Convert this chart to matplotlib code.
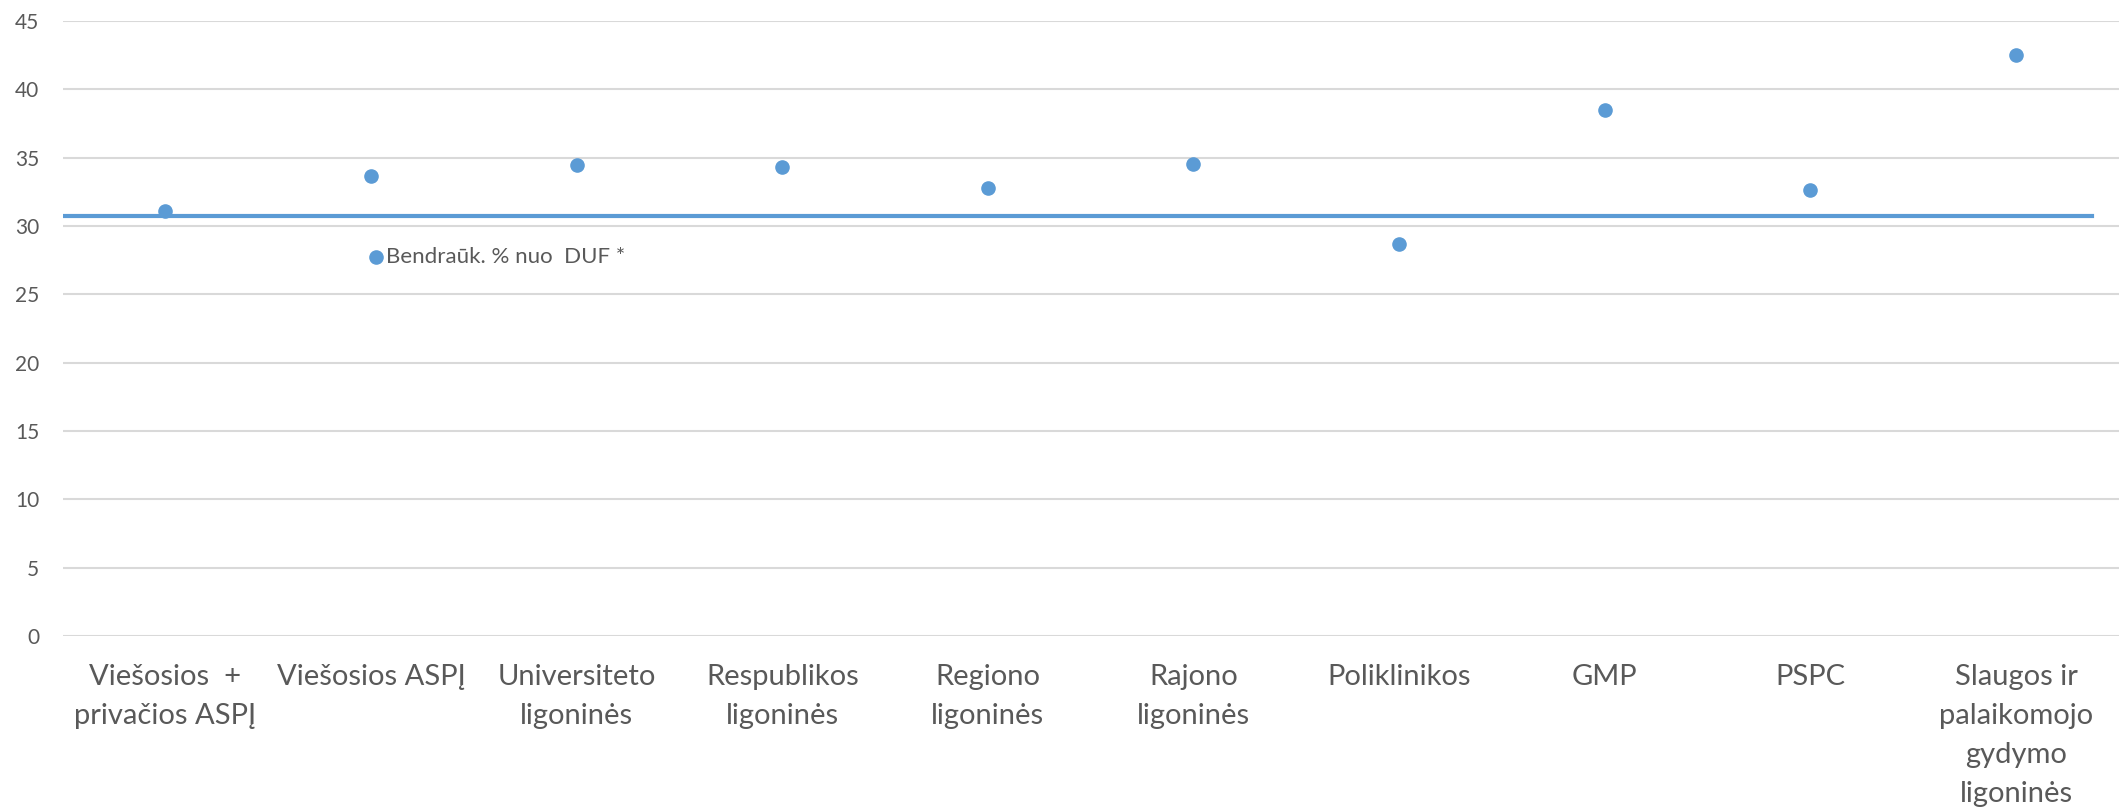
import matplotlib.pyplot as plt

plt.rcParams['font.family'] = ['Lato', 'DejaVu Sans']

# category labels (as wrapped in the original chart)
categories = ['Viešosios  +\nprivačios ASPĮ', 'Viešosios ASPĮ', 'Universiteto\nligoninės',
              'Respublikos\nligoninės', 'Regiono\nligoninės', 'Rajono\nligoninės',
              'Poliklinikos', 'GMP', 'PSPC', 'Slaugos ir\npalaikomojo\ngydymo\nligoninės']
values = [31.1, 33.65, 34.43, 34.31, 32.77, 34.51, 28.68, 38.46, 32.63, 42.53]
average = 30.74
series_name = 'Bendraūk. % nuo  DUF *'

text_col = '#595959'
blue = '#5B9BD5'

fig = plt.figure(figsize=(21.23, 8.09), dpi=100)
ax = fig.add_axes([0.0295, 0.214, 0.9685, 0.760])

x = list(range(len(categories)))
ax.scatter(x, values, s=90, color=blue, zorder=3, label=series_name)
# average line (ends a bit before the right edge, like the original)
ax.plot([-0.5, 9.37], [average, average], color=blue, lw=3.0, zorder=2)

ax.set_xlim(-0.5, 9.5)
ax.set_ylim(0, 45)
ax.set_yticks(range(0, 46, 5))
ax.set_xticks(x)
ax.set_xticklabels(categories, fontsize=21, color=text_col, linespacing=1.62)
ax.tick_params(axis='y', labelsize=15, colors=text_col, length=0, pad=17)
ax.tick_params(axis='x', length=0, pad=20)
ax.grid(axis='y', color='#D9D9D9', lw=1.5, zorder=0)
ax.set_axisbelow(True)
for s in ax.spines.values():
    s.set_visible(False)

leg = ax.legend(loc='center left', bbox_to_anchor=(0.148, 0.616), frameon=False,
                fontsize=16, handletextpad=0.05, borderpad=0, borderaxespad=0,
                handlelength=0.8, markerscale=1.0)
for t in leg.get_texts():
    t.set_color(text_col)

fig.savefig('out.png', dpi=100)
